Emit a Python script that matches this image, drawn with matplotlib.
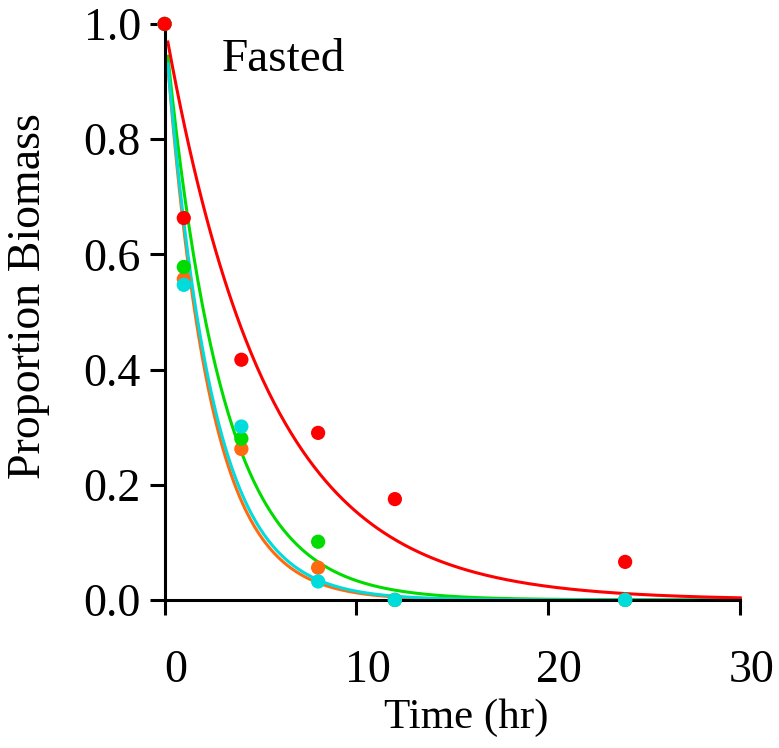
import numpy as np
import matplotlib.pyplot as plt
import matplotlib.transforms as mtransforms

plt.rcParams['font.family'] = ['Liberation Serif', 'DejaVu Serif']

# measured times (hr) and proportion biomass remaining
time = [0, 1, 4, 8, 12, 24]
red = [1.0, 0.663, 0.417, 0.290, 0.175, 0.066]
orange = [1.0, 0.557, 0.262, 0.056, 0.0, 0.0]
green = [1.0, 0.578, 0.280, 0.101, 0.0, 0.0]
cyan = [1.0, 0.547, 0.301, 0.032, 0.0, 0.0]

# fitted decay rates (1/hr)
k_red = 0.188
k_orange = 0.44
k_green = 0.34
k_cyan = 0.42

series = [
    (orange, k_orange, '#ff6a10'),
    (green, k_green, '#00dc00'),
    (cyan, k_cyan, '#00dcdc'),
    (red, k_red, '#ff0000'),
]

fig = plt.figure(figsize=(7.79, 7.48), dpi=100)
ax = fig.add_axes([0.2113, 0.198, 0.739, 0.770])

t = np.linspace(0.17, 30, 400)
for vals, k, col in series:
    ax.plot(t, np.exp(-k * t), color=col, lw=2.2, zorder=2, clip_on=False)
for vals, k, col in series:
    ax.scatter(time, vals, s=105, color=col, edgecolors='none', zorder=3, clip_on=False)

ax.set_xlim(0, 30)
ax.set_ylim(0, 1)
ax.set_xticks([0, 10, 20, 30])
ax.set_yticks([0, 0.2, 0.4, 0.6, 0.8, 1.0])
ax.set_yticklabels(['0.0', '0.2', '0.4', '0.6', '0.8', '1.0'])

for s in ['top', 'right']:
    ax.spines[s].set_visible(False)
for s in ['left', 'bottom']:
    ax.spines[s].set_linewidth(2.2)

ax.tick_params(axis='both', direction='out', length=11, width=2.2, labelsize=33)
ax.tick_params(axis='x', pad=25)
ax.tick_params(axis='y', pad=6)

# x tick labels sit a bit right of their ticks
off = mtransforms.ScaledTranslation(0.11, 0, fig.dpi_scale_trans)
for lab in ax.get_xticklabels():
    lab.set_transform(lab.get_transform() + off)

ax.set_xlabel('Time (hr)', fontsize=31)
ax.xaxis.set_label_coords(0.524, -0.172)
ax.set_ylabel('Proportion Biomass', fontsize=33)
ax.yaxis.set_label_coords(-0.199, 0.528)

ax.text(3.0, 0.9375, 'Fasted', fontsize=34, va='center', ha='left')

fig.savefig('out.png', dpi=100)
